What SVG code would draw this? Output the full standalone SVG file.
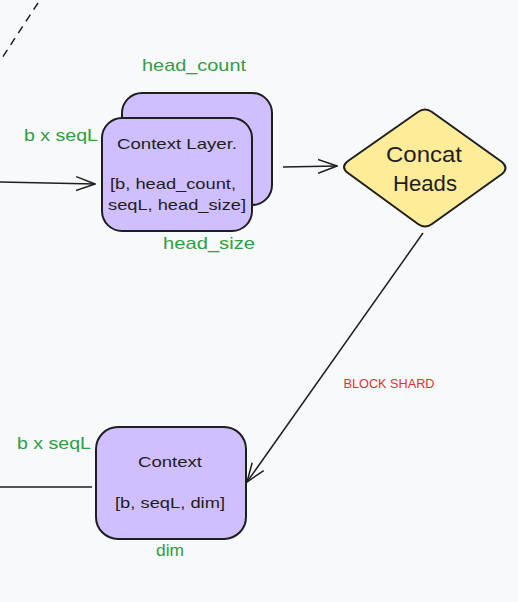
<svg xmlns="http://www.w3.org/2000/svg" width="518" height="602" viewBox="0 0 518 602">
<style>
.box{fill:#d0bfff;stroke:#1e1e1e;stroke-width:2}
.dia{fill:#ffec99;stroke:#1e1e1e;stroke-width:2;stroke-linejoin:round}
.ln{fill:none;stroke:#1e1e1e;stroke-width:1.5}
text{font-family:"Liberation Sans",Arial,sans-serif;text-anchor:middle}
.t{fill:#1e1e1e}
.g{fill:#2f9e44;font-size:17px}
.r{fill:#e03131;font-size:12px}
</style>
<defs>
<marker id="ah" viewBox="0 0 20 20" refX="19" refY="10" markerWidth="20" markerHeight="20" markerUnits="userSpaceOnUse" orient="auto">
<path d="M0,3 L19,10 L0,17" fill="none" stroke="#1e1e1e" stroke-width="1.5"/>
</marker>
</defs>
<rect width="518" height="602" fill="#f8f9fa"/>
<g id="connectors">
<line class="ln" x1="38" y1="3" x2="2" y2="58" stroke-dasharray="8 6"/>
<line class="ln" x1="0" y1="182" x2="95" y2="184" marker-end="url(#ah)"/>
<line class="ln" x1="283" y1="167" x2="337" y2="166" marker-end="url(#ah)"/>
<line class="ln" x1="423" y1="233" x2="247" y2="482" marker-end="url(#ah)"/>
<text class="r" x="389" y="388" textLength="91" lengthAdjust="spacingAndGlyphs">BLOCK SHARD</text>
<line class="ln" x1="0" y1="487" x2="92" y2="487" stroke-width="2.5"/>
</g>
<g id="context-layer">
<rect class="box" x="122" y="93" width="150" height="112" rx="20"/>
<rect class="box" x="102" y="118" width="150" height="113" rx="20"/>
<text class="t" x="177" y="149" font-size="15" textLength="120" lengthAdjust="spacingAndGlyphs">Context Layer.</text>
<text class="t" x="173" y="189" font-size="15" textLength="126" lengthAdjust="spacingAndGlyphs">[b, head_count,</text>
<text class="t" x="177" y="210" font-size="15" textLength="138" lengthAdjust="spacingAndGlyphs">seqL, head_size]</text>
<text class="g" x="194" y="71" textLength="104" lengthAdjust="spacingAndGlyphs">head_count</text>
<text class="g" x="61" y="141" textLength="74" lengthAdjust="spacingAndGlyphs">b x seqL</text>
<text class="g" x="209" y="249" textLength="92" lengthAdjust="spacingAndGlyphs">head_size</text>
</g>
<g id="concat-heads">
<path class="dia" d="M348,161 L418,112 Q425,107 432,112 L502,162 Q509,168 502,174 L432,224 Q425,229 418,224 L348,173 Q340,167 348,161 Z"/>
<text class="t" x="424" y="162" font-size="22" textLength="76" lengthAdjust="spacingAndGlyphs">Concat</text>
<text class="t" x="425" y="191" font-size="22" textLength="64" lengthAdjust="spacingAndGlyphs">Heads</text>
</g>
<g id="context">
<rect class="box" x="96" y="427" width="150" height="112" rx="22"/>
<text class="t" x="170" y="467" font-size="15" textLength="64" lengthAdjust="spacingAndGlyphs">Context</text>
<text class="t" x="170" y="508" font-size="15" textLength="110" lengthAdjust="spacingAndGlyphs">[b, seqL, dim]</text>
<text class="g" x="54" y="449" textLength="74" lengthAdjust="spacingAndGlyphs">b x seqL</text>
<text class="g" x="170" y="556" textLength="28" lengthAdjust="spacingAndGlyphs">dim</text>
</g>
</svg>
